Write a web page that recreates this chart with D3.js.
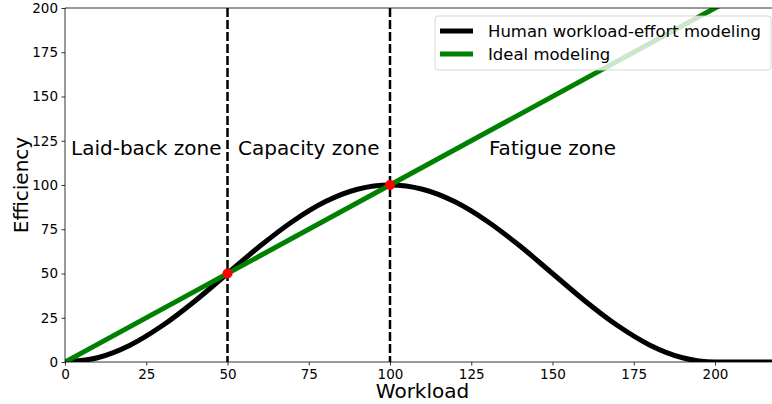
<!DOCTYPE html>
<html lang="en">
<head>
  <meta charset="UTF-8">
  <title>Workload vs efficiency</title>
  <script src="https://d3js.org/d3.v7.min.js"></script>
  <style>
    body { margin: 0; background: #fff; }
    svg { font-family: "DejaVu Sans", sans-serif; }
  </style>
</head>
<body>
  <svg width="772" height="404" id="chart"></svg>
  <script>
    // human workload-effort curve
    const workload = [0, 10, 20, 30, 40, 50, 60, 70, 80, 90, 100, 110, 120, 130, 140, 150, 160, 170, 180, 190, 200, 210, 220];
    const human = [0, 2.4, 9.5, 20.6, 34.5, 50, 65.5, 79.4, 90.5, 97.6, 100, 97.6, 90.5, 79.4, 65.5, 50, 34.5, 20.6, 9.5, 2.4, 0, 0, 0];
    const idealX = [0, 220];
    const idealY = [0, 220];
    const crossings = [[50, 50], [100, 100]];
    const boundaries = [50, 100];
    const zones = [
      { name: 'Laid-back zone', x: 25 },
      { name: 'Capacity zone', x: 75 },
      { name: 'Fatigue zone', x: 150 },
    ];
    const xTicks = [0, 25, 50, 75, 100, 125, 150, 175, 200];
    const yTicks = [0, 25, 50, 75, 100, 125, 150, 175, 200];

    const svg = d3.select('#chart');
    const margin = { top: 8, left: 65 };
    const innerWidth = 715;
    const innerHeight = 354;

    const x = d3.scaleLinear().domain([0, 220]).range([0, innerWidth]);
    const y = d3.scaleLinear().domain([0, 200]).range([innerHeight, 0]);

    const g = svg.append('g')
      .attr('transform', `translate(${margin.left},${margin.top})`);

    svg.append('defs').append('clipPath').attr('id', 'clip')
      .append('rect').attr('width', innerWidth).attr('height', innerHeight);

    const plot = g.append('g').attr('clip-path', 'url(#clip)');

    // dashed zone boundaries
    boundaries.forEach(b => {
      plot.append('line')
        .attr('x1', x(b)).attr('x2', x(b))
        .attr('y1', 0).attr('y2', innerHeight)
        .attr('stroke', '#000')
        .attr('stroke-width', 2.5)
        .attr('stroke-dasharray', '9,3');
    });

    const line = d3.line().x(d => x(d[0])).y(d => y(d[1]));

    plot.append('path')
      .datum(workload.map((w, i) => [w, human[i]]))
      .attr('d', line.curve(d3.curveMonotoneX))
      .attr('fill', 'none')
      .attr('stroke', '#000')
      .attr('stroke-width', 5);

    plot.append('path')
      .datum(idealX.map((w, i) => [w, idealY[i]]))
      .attr('d', d3.line().x(d => x(d[0])).y(d => y(d[1])))
      .attr('fill', 'none')
      .attr('stroke', 'green')
      .attr('stroke-width', 5);

    plot.selectAll('circle').data(crossings).join('circle')
      .attr('cx', d => x(d[0]))
      .attr('cy', d => y(d[1]))
      .attr('r', 5)
      .attr('fill', 'red');

    // zone labels
    g.selectAll('.zone').data(zones).join('text')
      .attr('class', 'zone')
      .attr('x', d => x(d.x))
      .attr('y', y(117))
      .attr('text-anchor', 'middle')
      .attr('font-size', 20)
      .text(d => d.name);

    // axes
    const xAxis = g.append('g')
      .attr('transform', `translate(0,${innerHeight})`)
      .call(d3.axisBottom(x).tickValues(xTicks).tickSize(3.5).tickPadding(3.5));
    const yAxis = g.append('g')
      .call(d3.axisLeft(y).tickValues(yTicks).tickSize(3.5).tickPadding(3.5));
    [xAxis, yAxis].forEach(a => {
      a.selectAll('text').attr('font-size', 13.5).attr('fill', '#000')
        .attr('font-family', '"DejaVu Sans", sans-serif');
      a.selectAll('line').attr('stroke', '#000').attr('stroke-width', 0.8);
      a.select('.domain').remove();
    });

    // spines
    g.append('line').attr('x1', 0).attr('x2', 0).attr('y1', 0).attr('y2', innerHeight)
      .attr('stroke', '#000').attr('stroke-width', 0.8);
    g.append('line').attr('x1', 0).attr('x2', innerWidth).attr('y1', innerHeight).attr('y2', innerHeight)
      .attr('stroke', '#000').attr('stroke-width', 0.8);
    g.append('line').attr('x1', 0).attr('x2', innerWidth).attr('y1', 0).attr('y2', 0)
      .attr('stroke', '#000').attr('stroke-width', 0.8);
    g.append('line').attr('x1', innerWidth).attr('x2', innerWidth).attr('y1', 0).attr('y2', innerHeight)
      .attr('stroke', '#000').attr('stroke-width', 0.8);

    // axis titles
    g.append('text')
      .attr('x', innerWidth / 2)
      .attr('y', innerHeight + 36)
      .attr('text-anchor', 'middle')
      .attr('font-size', 20)
      .text('Workload');
    g.append('text')
      .attr('transform', `translate(-37,${innerHeight / 2}) rotate(-90)`)
      .attr('text-anchor', 'middle')
      .attr('font-size', 20)
      .text('Efficiency');

    // legend
    const legend = g.append('g').attr('transform', `translate(${370},${8})`);
    legend.append('rect')
      .attr('width', 336).attr('height', 54).attr('rx', 3)
      .attr('fill', '#fff').attr('fill-opacity', 0.8)
      .attr('stroke', '#ccc').attr('stroke-width', 0.8);
    const items = [
      { label: 'Human workload-effort modeling', color: '#000' },
      { label: 'Ideal modeling', color: 'green' },
    ];
    items.forEach((d, i) => {
      const row = legend.append('g').attr('transform', `translate(0,${15 + i * 23})`);
      row.append('line').attr('x1', 5).attr('x2', 38)
        .attr('stroke', d.color).attr('stroke-width', 5);
      row.append('text').attr('x', 53).attr('y', 6)
        .attr('font-size', 16.5).text(d.label);
    });
  </script>
</body>
</html>
